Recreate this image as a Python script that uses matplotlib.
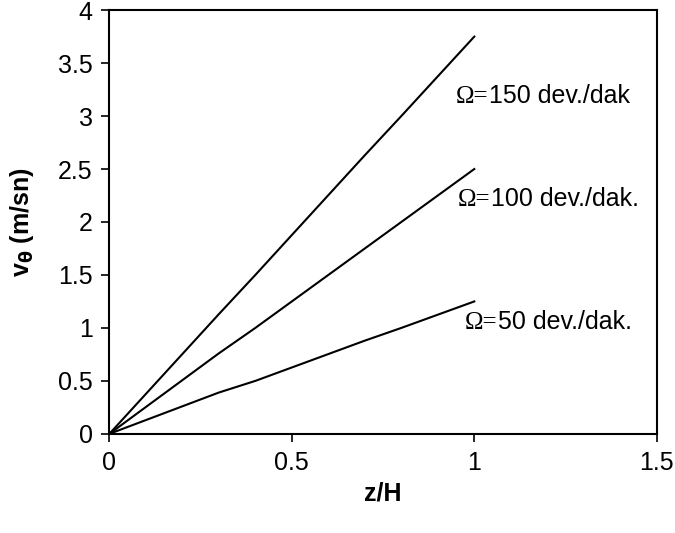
import matplotlib
matplotlib.use("Agg")
import matplotlib.pyplot as plt

# z/H değerleri ve üç farklı dönme hızı için teğetsel hız
z_h = [0, 0.3, 0.4, 0.7, 0.8, 1.0]
v_50 = [0, 0.39, 0.5, 0.88, 1.0, 1.25]
v_100 = [0, 0.76, 1.0, 1.75, 2.0, 2.5]
v_150 = [0, 1.13, 1.5, 2.63, 3.0, 3.75]

labels = ["150 dev./dak", "100 dev./dak.", "50 dev./dak."]
label_pos = [(0.95, 3.12), (0.955, 2.15), (0.975, 0.99)]

plt.rcParams['font.family'] = ['Liberation Sans', 'DejaVu Sans']

fig = plt.figure(figsize=(6.75, 5.33), dpi=100)
ax = fig.add_axes([0.162, 0.186, 0.811, 0.795])

for ys in (v_150, v_100, v_50):
    ax.plot(z_h, ys, color='black', linewidth=1.5)

ax.set_xlim(0, 1.5)
ax.set_ylim(0, 4)

# Ω= serif yazı tipiyle, geri kalanı aynı taban çizgisinde
omegas = []
for x, y in label_pos:
    om = ax.text(x, y, "Ω=", family=['Liberation Serif', 'DejaVu Serif'],
                 fontsize=18, ha='left', va='baseline')
    omegas.append(om)
fig.canvas.draw()
for om, txt, (x, y) in zip(omegas, labels, label_pos):
    w = om.get_window_extent().width * 72 / fig.dpi
    ax.annotate(txt, xy=(x, y), xytext=(w, 0), textcoords='offset points',
                fontsize=18, ha='left', va='baseline')

ax.set_xticks([0, 0.5, 1, 1.5])
ax.set_xticklabels(['0', '0.5', '1', '1.5'])
ax.set_yticks([0, 0.5, 1, 1.5, 2, 2.5, 3, 3.5, 4])
ax.set_yticklabels(['0', '0.5', '1', '1.5', '2', '2.5', '3', '3.5', '4'])
ax.tick_params(direction='out', length=6, width=1.2, labelsize=18, pad=6)
for s in ax.spines.values():
    s.set_linewidth(1.5)

ax.set_xlabel("z/H", fontsize=18, fontweight='bold', labelpad=5)
ax.set_ylabel(r"v$_{\mathbf{\theta}}$ (m/sn)", fontsize=18, fontweight='bold', labelpad=16)

fig.savefig("out.png", dpi=100)
